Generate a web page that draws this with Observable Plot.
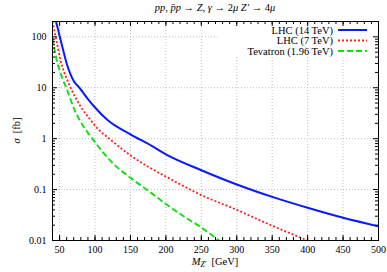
<!DOCTYPE html>
<html>
<head>
<meta charset="utf-8">
<script src="https://cdn.jsdelivr.net/npm/d3@7"></script>
<script src="https://cdn.jsdelivr.net/npm/@observablehq/plot@0.6"></script>
<style>
  html, body { margin: 0; padding: 0; background: #fff; }
  svg { display: block; }
</style>
</head>
<body>
<div id="chart"></div>
<script>
// Data
const massLHC14 = [40, 45, 50, 55, 60, 65, 70, 78, 90, 100, 118, 150, 180, 200, 250, 300, 350, 400, 450, 500];
const sigmaLHC14 = [400, 200, 105, 55, 30, 19, 13.5, 10, 6, 4.1, 2.3, 1.22, 0.72, 0.49, 0.24, 0.126, 0.072, 0.044, 0.028, 0.019];
const massLHC7 = [40, 45.5, 51.5, 61, 65.6, 80, 94, 100, 125, 150, 175, 200, 250, 300, 350, 400];
const sigmaLHC7 = [200, 85, 34, 14, 10, 4.2, 2.3, 1.8, 0.88, 0.47, 0.28, 0.18, 0.078, 0.04, 0.0195, 0.01];
const massTev = [40, 45, 50, 55, 60, 70, 80, 90, 100, 125, 150, 175, 200, 225, 250, 275];
const sigmaTev = [95, 40, 22, 14, 9.5, 4.0, 2.1, 1.3, 0.85, 0.33, 0.17, 0.095, 0.052, 0.03, 0.018, 0.01];
const seriesNames = ["LHC (14 TeV)", "LHC (7 TeV)", "Tevatron (1.96 TeV)"];
const xMajor = [50, 100, 150, 200, 250, 300, 350, 400, 450, 500];
const xMinor = d3.range(40, 501, 10);
const yMajor = [0.01, 0.1, 1, 10, 100];
const yMinor = [0.01, 0.1, 1, 10, 100].flatMap(d => [2,3,4,5,6,7,8,9].map(k => k * d)).filter(v => v <= 200);

const toRows = (ms, ss, s) => ms.map((m, i) => ({m, s: ss[i], series: s}));
const rows14 = toRows(massLHC14, sigmaLHC14, seriesNames[0]);
const rows7 = toRows(massLHC7, sigmaLHC7, seriesNames[1]);
const rowsTev = toRows(massTev, sigmaTev, seriesNames[2]);

const W = 387, H = 272;
const mL = 52, mR = 9, mT = 21, mB = 32;
const fw = W - mL - mR, fh = H - mT - mB;
const font = "Liberation Serif, 'Times New Roman', DejaVu Serif, serif";
const gridStyle = {stroke: "#b0b0b0", strokeOpacity: 1, strokeWidth: 0.8, strokeDasharray: "1,2"};
const styles = [
  {stroke: "#0a1aff", w: 2, dash: null},
  {stroke: "#ff2020", w: 1.8, dash: "2,2"},
  {stroke: "#11dd11", w: 1.9, dash: "6,3"}
];
const lineOpts = i => ({x: "m", y: "s", stroke: styles[i].stroke, strokeWidth: styles[i].w,
  strokeDasharray: styles[i].dash, strokeLinecap: "butt", strokeLinejoin: "miter", curve: "monotone-x", clip: true});

const plot = Plot.plot({
  width: W, height: H,
  marginLeft: mL, marginRight: mR, marginTop: mT, marginBottom: mB,
  style: {fontFamily: font, fontSize: "10px", background: "#fff", color: "#000"},
  x: {domain: [40, 500], label: null},
  y: {type: "log", domain: [0.01, 200], label: null},
  marks: [
    Plot.gridX(xMajor, gridStyle),
    Plot.gridY(yMajor, gridStyle),
    Plot.line(rowsTev, lineOpts(2)),
    Plot.line(rows7, lineOpts(1)),
    Plot.line(rows14, lineOpts(0)),
    // inward ticks (gnuplot style, mirrored)
    Plot.tickX(xMajor, {x: d => d, insetTop: fh - 5, stroke: "#000"}),
    Plot.tickX(xMajor, {x: d => d, insetBottom: fh - 5, stroke: "#000"}),
    Plot.tickX(xMinor, {x: d => d, insetTop: fh - 3, stroke: "#000"}),
    Plot.tickX(xMinor, {x: d => d, insetBottom: fh - 3, stroke: "#000"}),
    Plot.tickY(yMajor, {y: d => d, insetRight: fw - 5, stroke: "#000"}),
    Plot.tickY(yMajor, {y: d => d, insetLeft: fw - 5, stroke: "#000"}),
    Plot.tickY(yMinor, {y: d => d, insetRight: fw - 3, stroke: "#000"}),
    Plot.tickY(yMinor, {y: d => d, insetLeft: fw - 3, stroke: "#000"}),
    Plot.axisX(xMajor, {tickSize: 0, tickPadding: 5, tickFormat: d => String(d), fontSize: 10, label: null}),
    Plot.axisY(yMajor, {tickSize: 0, tickPadding: 6, tickFormat: d => String(d), fontSize: 10, label: null}),
    Plot.frame({stroke: "#000", strokeWidth: 1})
  ]
});

document.getElementById("chart").appendChild(plot);
const svg = d3.select(plot);

// Title
const title = svg.append("text")
  .attr("x", mL + fw / 2).attr("y", 11)
  .attr("text-anchor", "middle")
  .style("font-family", font).style("font-size", "10.5px").attr("fill", "#000");
[
  ["pp", true], [", ", false], ["p\u0304p", true], [" \u2192 ", false], ["Z", true], [", ", false],
  ["\u03b3", true], [" \u2192 2", false], ["\u03bc Z\u2032", true], [" \u2192 4", false], ["\u03bc", true]
].forEach(([txt, it]) => title.append("tspan").text(txt).style("font-style", it ? "italic" : "normal"));

// X label
const xl = svg.append("text")
  .attr("x", mL + fw / 2).attr("y", 265)
  .attr("text-anchor", "middle")
  .style("font-family", font).style("font-size", "10.5px").attr("fill", "#000");
xl.append("tspan").text("M").style("font-style", "italic");
xl.append("tspan").text("Z\u2032").style("font-style", "italic").style("font-size", "7.5px").attr("dy", "2");
xl.append("tspan").text("  [GeV]").attr("dy", "-2");

// Y label
const yl = svg.append("text")
  .attr("transform", `translate(20,${mT + fh / 2}) rotate(-90)`)
  .attr("text-anchor", "middle")
  .style("font-family", font).style("font-size", "10.5px").attr("fill", "#000");
yl.append("tspan").text("\u03c3").style("font-style", "italic");
yl.append("tspan").text("  [fb]");

// Legend: opaque box placed above the grid but below curves and ticks
const firstLine = plot.querySelector('g[aria-label="line"]');
const box = document.createElementNS("http://www.w3.org/2000/svg", "rect");
box.setAttribute("x", 219); box.setAttribute("y", mT + 0.5);
box.setAttribute("width", W - mR - 219 - 0.5); box.setAttribute("height", 34);
box.setAttribute("fill", "#fff");
plot.insertBefore(box, firstLine);

const lg = svg.append("g");
seriesNames.forEach((name, i) => {
  const y = 30 + i * 10.5;
  lg.append("text").attr("x", 333).attr("y", y).attr("dy", "0.35em")
    .attr("text-anchor", "end").style("font-family", font).style("font-size", "10.5px").attr("fill", "#000").text(name);
  lg.append("line").attr("x1", 338).attr("x2", 367).attr("y1", y).attr("y2", y)
    .attr("stroke", styles[i].stroke).attr("stroke-width", styles[i].w)
    .attr("stroke-dasharray", styles[i].dash);
});
</script>
</body>
</html>
